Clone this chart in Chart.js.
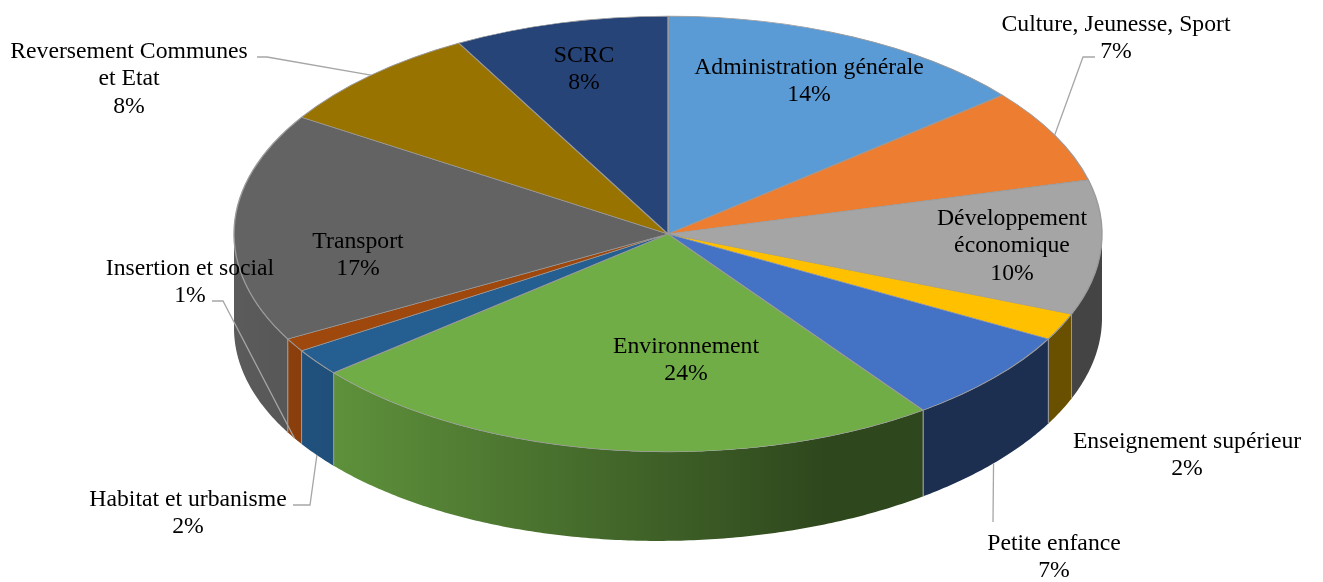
<!DOCTYPE html>
<html>
<head>
<meta charset="utf-8">
<script src="https://cdn.jsdelivr.net/npm/chart.js@4.4.1/dist/chart.umd.min.js"></script>
<style>
  html, body { margin: 0; padding: 0; background: #fff; }
  #wrap { width: 1323px; height: 582px; }
</style>
</head>
<body>
<div id="wrap"><canvas id="pie3d" width="1323" height="582"></canvas></div>
<script>
// budget split (%), clockwise from 12 o'clock
const categories = [
    'Administration générale',
    'Culture, Jeunesse, Sport',
    ['Développement', 'économique'],
    'Enseignement supérieur',
    'Petite enfance',
    'Environnement',
    'Habitat et urbanisme',
    'Insertion et social',
    'Transport',
    ['Reversement Communes', 'et Etat'],
    'SCRC'
];
const shares = [14, 7, 10, 2, 7, 24, 2, 1, 17, 8, 8];
const colors = ['#5B9BD5', '#ED7D31', '#A5A5A5', '#FFC000', '#4472C4', '#70AD47',
                '#255E91', '#9E480E', '#636363', '#997300', '#264478'];

// label placement (text centre x, first baseline y) + optional leader elbow points
const labelPos = [
    { x: 809, y: 74 },
    { x: 1116, y: 31, leader: [[1095, 57], [1083, 57]] },
    { x: 1012, y: 225 },
    { x: 1187, y: 448 },
    { x: 1054, y: 550, leader: [[993, 522]] },
    { x: 686, y: 353 },
    { x: 188, y: 506, leader: [[293, 505], [310, 505]] },
    { x: 190, y: 275, leader: [[212, 301], [223, 301]] },
    { x: 358, y: 248 },
    { x: 129, y: 58, leader: [[257, 57], [267, 57]] },
    { x: 584, y: 62 }
];

const TILT = 0.502;       // vertical squash of the top face
const DEPTH = 89;         // side wall height
const SKEW = 5;           // wall a bit taller on the left
const LINE_H = 27.3;
const FONT = '23.7px "Liberation Serif", "Times New Roman", serif';

function shade(hex, f) {
    const n = parseInt(hex.slice(1), 16);
    const r = Math.round(((n >> 16) & 255) * f);
    const g = Math.round(((n >> 8) & 255) * f);
    const b = Math.round((n & 255) * f);
    return `rgb(${r},${g},${b})`;
}

function depthAt(t) {
    return DEPTH - SKEW * Math.cos(t);
}

const pie3d = {
    id: 'pie3d',
    beforeDatasetsDraw(chart) {
        const ctx = chart.ctx;
        const arcs = chart.getDatasetMeta(0).data;
        const cx = arcs[0].x, cy = arcs[0].y;
        const rx = arcs[0].outerRadius, ry = rx * TILT;

        // front walls
        arcs.forEach((arc, i) => {
            const a1 = Math.max(arc.startAngle, 0);
            const a2 = Math.min(arc.endAngle, Math.PI);
            if (a2 <= a1) return;
            const n = Math.max(2, Math.ceil((a2 - a1) / 0.01));
            ctx.save();
            ctx.beginPath();
            for (let k = 0; k <= n; k++) {
                const t = a1 + (a2 - a1) * k / n;
                ctx.lineTo(cx + rx * Math.cos(t), cy + ry * Math.sin(t));
            }
            for (let k = n; k >= 0; k--) {
                const t = a1 + (a2 - a1) * k / n;
                ctx.lineTo(cx + rx * Math.cos(t), cy + ry * Math.sin(t) + depthAt(t));
            }
            ctx.closePath();
            const grad = ctx.createLinearGradient(cx - rx + 6, 0, cx + 0.37 * rx, 0);
            grad.addColorStop(0, shade(colors[i], 0.92));
            grad.addColorStop(1, shade(colors[i], 0.41));
            ctx.fillStyle = grad;
            ctx.fill();

            // seams between walls
            ctx.strokeStyle = '#9a9a9a';
            ctx.lineWidth = 1;
            [a1, a2].forEach(t => {
                if (t <= 0.001 || t >= Math.PI - 0.001) return;
                const x = cx + rx * Math.cos(t), y = cy + ry * Math.sin(t);
                ctx.beginPath();
                ctx.moveTo(x, y);
                ctx.lineTo(x, y + depthAt(t));
                ctx.stroke();
            });
            ctx.restore();
        });

        // squash the top face drawn by chart.js
        ctx.save();
        ctx.translate(0, cy);
        ctx.scale(1, TILT);
        ctx.translate(0, -cy);
    },
    afterDatasetsDraw(chart) {
        chart.ctx.restore();
    },
    afterDraw(chart) {
        const ctx = chart.ctx;
        const arcs = chart.getDatasetMeta(0).data;
        const cx = arcs[0].x, cy = arcs[0].y;
        const rx = arcs[0].outerRadius, ry = rx * TILT;

        ctx.save();
        // leader lines
        ctx.strokeStyle = '#a6a6a6';
        ctx.lineWidth = 1.3;
        arcs.forEach((arc, i) => {
            const pos = labelPos[i];
            if (!pos.leader) return;
            const t = (arc.startAngle + arc.endAngle) / 2;
            const s = Math.sin(t);
            const ex = cx + rx * Math.cos(t);
            const ey = cy + ry * s + (s > 0 ? depthAt(t) : 0);
            ctx.beginPath();
            pos.leader.forEach((p, k) => k === 0 ? ctx.moveTo(p[0], p[1]) : ctx.lineTo(p[0], p[1]));
            ctx.lineTo(ex, ey);
            ctx.stroke();
        });

        // labels
        ctx.font = FONT;
        ctx.fillStyle = '#000';
        ctx.textAlign = 'center';
        ctx.textBaseline = 'alphabetic';
        categories.forEach((cat, i) => {
            const lines = (Array.isArray(cat) ? cat.slice() : [cat]);
            lines.push(shares[i] + '%');
            lines.forEach((ln, k) => {
                ctx.fillText(ln, labelPos[i].x, labelPos[i].y + k * LINE_H);
            });
        });
        ctx.restore();
    }
};

const ctx = document.getElementById('pie3d').getContext('2d');
const chart = new Chart(ctx, {
    type: 'pie',
    data: {
        labels: categories,
        datasets: [{
            data: shares,
            backgroundColor: colors,
            borderColor: '#9a9a9a',
            borderWidth: 1.4,
            radius: 434,
            clip: 1000
        }]
    },
    options: {
        responsive: false,
        animation: false,
        events: [],
        layout: {
            padding: { left: 13, bottom: 114 }
        },
        plugins: {
            legend: { display: false },
            tooltip: { enabled: false }
        }
    },
    plugins: [pie3d]
});
</script>
</body>
</html>
